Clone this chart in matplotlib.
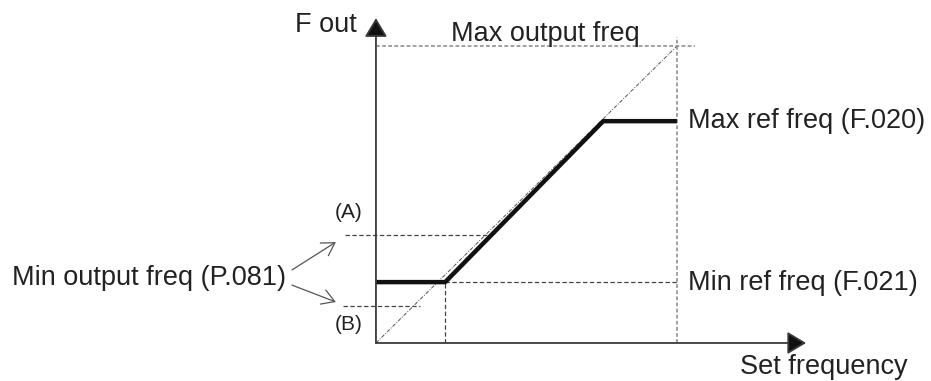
import matplotlib
matplotlib.use("Agg")
import matplotlib.pyplot as plt
import numpy as np

plt.rcParams['font.family'] = ['Liberation Sans', 'DejaVu Sans']

# characteristic (set frequency -> output frequency), % of max output freq
ramp_x = [0, 23, 75.5, 100]
ramp_y = [20.5, 20.5, 74.7, 74.7]
max_out = 100
level_a = 36.4
level_b = 12.5
min_ref = 20.5
max_ref = 74.7

fig = plt.figure(figsize=(9.31, 3.81), dpi=100)
ax = fig.add_axes([0, 0, 1, 1])
ax.set_xlim(-124.9, 184.4)
ax.set_ylim(-12.8, 115.5)
ax.axis('off')

axis_col = '#3a3a3a'
ink = '#222222'

# axes with arrow heads
arrow = dict(arrowstyle='-|>,head_length=0.4,head_width=0.24', mutation_scale=29,
             lw=1.3, color=axis_col, shrinkA=0, shrinkB=0)
ya = ax.annotate('', xy=(0, 109.4), xytext=(0, 0), arrowprops=arrow)
xa_ = ax.annotate('', xy=(142.9, 0), xytext=(0, 0), arrowprops=arrow)
for a in (ya, xa_):
    a.arrow_patch.set_facecolor('#111111')

# diagonal reference y = x
ax.plot([0, max_out], [0, max_out], color='#555555', lw=0.7, ls=(0, (4, 1.5, 1, 1.5)))

# max output freq guides
ax.plot([0, 106], [max_out, max_out], color='#888888', lw=1.1, ls=(0, (2.5, 1.5)))
ax.plot([100, 100], [0, 103], color='#888888', lw=1.1, ls=(0, (2.5, 1.5)))

# min ref freq guides
ax.plot([ramp_x[1], 100], [min_ref, min_ref], color='#444444', lw=0.9, ls=(0, (3.5, 2)))
ax.plot([ramp_x[1], ramp_x[1]], [0, min_ref], color='#444444', lw=0.9, ls=(0, (3.5, 2)))

# (A) and (B) levels
xa = np.interp(level_a, ramp_y[1:3], ramp_x[1:3])
ax.plot([-10.3, xa], [level_a, level_a], color='#444444', lw=0.9, ls=(0, (3.5, 2)))
ax.plot([-11, level_b + 2], [level_b, level_b], color='#444444', lw=0.9, ls=(0, (3.5, 2)))

# characteristic line
ax.plot(ramp_x, ramp_y, color='#111111', lw=3.2, solid_capstyle='butt')

fs = 19.5
ax.text(-6.3, 107.1, 'F out', ha='right', va='center', fontsize=fs, color=ink)
ax.text(24.9, 104.2, 'Max output freq', ha='left', va='center', fontsize=fs, color=ink)
ax.text(103.7, max_ref, 'Max ref freq (F.020)', ha='left', va='center', fontsize=fs, color=ink)
ax.text(103.7, min_ref - 0.3, 'Min ref freq (F.021)', ha='left', va='center', fontsize=fs, color=ink)
ax.text(120.9, -8.1, 'Set frequency', ha='left', va='center', fontsize=fs, color=ink)
ax.text(-120.9, 21.9, 'Min output freq (P.081)', ha='left', va='center', fontsize=fs, color=ink)
ax.text(-9.0, 44.1, '(A)', ha='center', va='center', fontsize=15, color=ink)
ax.text(-9.0, 6.1, '(B)', ha='center', va='center', fontsize=15, color=ink)

thin = dict(arrowstyle='->,head_length=0.5,head_width=0.3', mutation_scale=18,
            lw=0.9, color='#555555', shrinkA=0, shrinkB=0)
ax.annotate('', xy=(-13.3, 34.0), xytext=(-27.9, 24.6), arrowprops=thin)
ax.annotate('', xy=(-13.3, 13.8), xytext=(-27.9, 19.5), arrowprops=thin)

fig.savefig('out.png', dpi=100)
